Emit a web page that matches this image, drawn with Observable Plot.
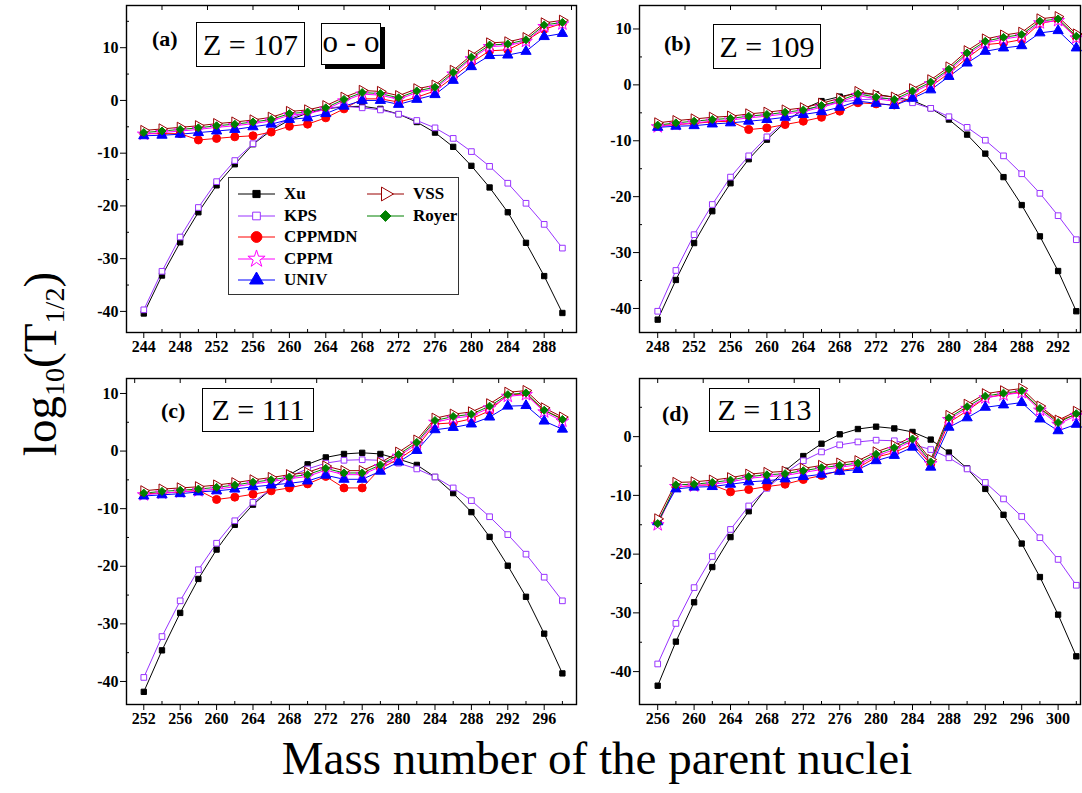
<!DOCTYPE html>
<html><head><meta charset="utf-8">
<script src="https://cdn.jsdelivr.net/npm/d3@7"></script>
<script src="https://cdn.jsdelivr.net/npm/@observablehq/plot@0.6"></script>
<style>
html,body{margin:0;padding:0;background:#fff;overflow:hidden;}
#root{position:relative;width:1082px;height:793px;font-family:"Liberation Serif","Times New Roman",serif;color:#000;}
.panel{position:absolute;}
.zbox{position:absolute;border:1.3px solid #000;background:#fff;box-sizing:border-box;font-size:30px;display:flex;align-items:center;justify-content:center;white-space:nowrap;}
.plab{position:absolute;font-weight:bold;font-size:22px;white-space:nowrap;}
.sub{font-size:0.6em;vertical-align:-0.3em;line-height:0;}
</style></head><body><div id="root"></div>
<script>
// ---------- data ----------
const seriesNames = ["Xu","KPS","CPPMDN","CPPM","UNIV","VSS","Royer"];

const massA = [244,246,248,250,252,254,256,258,260,262,264,266,268,270,272,274,276,278,280,282,284,286,288,290];
const xuA = [-40.4,-33.2,-26.9,-21.2,-16.1,-12.1,-8.3,-5.7,-3.7,-2.4,-1.6,-1.2,-1.1,-1.6,-2.6,-4.1,-6.1,-8.8,-12.4,-16.5,-21.2,-27.0,-33.3,-40.3];
const kpsA = [-39.7,-32.4,-25.9,-20.3,-15.4,-11.4,-8.2,-5.3,-3.4,-2.2,-1.5,-1.1,-1.4,-1.8,-2.6,-3.8,-5.2,-7.2,-9.7,-12.5,-15.7,-19.5,-23.5,-28.0];
const cppmdnA = [-6.3,-6.3,-6.3,-7.5,-7.2,-6.9,-6.7,-6.0,-4.9,-4.5,-3.3,-1.6,0.3,0.3,-0.3,0.6,1.8,4.4,7.2,9.4,9.6,11.3,13.5,14.6];
const cppmA = [-6.4,-6.1,-5.8,-5.5,-5.1,-4.8,-4.4,-3.9,-2.8,-2.5,-1.7,-0.1,1.2,1.0,0.2,1.5,2.2,5.0,7.9,10.2,10.4,11.2,14.0,14.5];
const univA = [-6.7,-6.6,-6.4,-6.1,-5.8,-5.5,-5.0,-4.5,-3.6,-3.3,-2.5,-1.1,0.0,0.0,-0.75,0.2,1.1,3.8,6.4,8.5,8.6,9.3,12.1,12.7];
const vssA = [-5.7,-5.4,-5.1,-4.8,-4.4,-4.1,-3.7,-3.2,-2.1,-1.8,-1.0,0.6,1.9,1.7,0.9,2.2,2.9,5.7,8.6,10.9,11.1,11.9,14.7,15.2];
const royerA = [-6.1,-5.8,-5.5,-5.2,-4.8,-4.5,-4.1,-3.6,-2.5,-2.2,-1.4,0.2,1.5,1.3,0.5,1.8,2.5,5.3,8.2,10.5,10.7,11.5,14.3,14.8];

const massB = [248,250,252,254,256,258,260,262,264,266,268,270,272,274,276,278,280,282,284,286,288,290,292,294];
const xuB = [-42.0,-34.9,-28.3,-22.6,-17.6,-13.3,-9.8,-6.7,-4.3,-2.9,-2.1,-1.5,-1.7,-2.2,-2.8,-4.2,-6.2,-8.9,-12.3,-16.5,-21.5,-27.1,-33.3,-40.5];
const kpsB = [-40.5,-33.2,-26.8,-21.4,-16.5,-12.7,-9.3,-6.5,-4.6,-3.7,-3.1,-2.7,-2.5,-2.4,-3.2,-4.2,-5.7,-7.6,-9.9,-12.7,-15.9,-19.4,-23.4,-27.7];
const cppmdnB = [-7.3,-7.1,-6.9,-6.6,-6.5,-8.0,-7.7,-7.1,-6.5,-5.8,-4.7,-3.2,-3.4,-3.6,-2.2,-0.3,2.1,4.8,7.2,7.5,8.1,11.0,11.6,8.5];
const cppmB = [-7.5,-7.1,-6.8,-6.5,-6.3,-5.9,-5.6,-5.2,-4.8,-4.0,-3.1,-1.9,-2.5,-2.9,-1.4,0.2,2.5,5.4,7.5,8.2,8.7,11.1,11.5,8.4];
const univB = [-7.6,-7.4,-7.3,-7.0,-6.8,-6.5,-6.2,-5.8,-5.3,-4.8,-4.0,-2.9,-3.3,-3.7,-2.4,-0.9,1.5,3.9,6.0,6.6,7.0,9.3,9.7,6.6];
const vssB = [-6.8,-6.4,-6.1,-5.8,-5.6,-5.2,-4.9,-4.5,-4.1,-3.3,-2.4,-1.2,-1.8,-2.2,-0.7,0.9,3.2,6.1,8.2,8.9,9.4,11.8,12.2,9.1];
const royerB = [-7.2,-6.8,-6.5,-6.2,-6.0,-5.6,-5.3,-4.9,-4.5,-3.7,-2.8,-1.6,-2.2,-2.6,-1.1,0.5,2.8,5.7,7.8,8.5,9.0,11.4,11.8,8.7];

const massC = [252,254,256,258,260,262,264,266,268,270,272,274,276,278,280,282,284,286,288,290,292,294,296,298];
const xuC = [-41.8,-34.6,-28.1,-22.2,-17.1,-12.8,-9.3,-6.6,-4.1,-2.3,-1.1,-0.5,-0.3,-0.5,-1.4,-2.4,-4.5,-7.3,-10.6,-14.9,-19.9,-25.3,-31.7,-38.6];
const kpsC = [-39.3,-32.2,-26.0,-20.6,-16.0,-12.1,-8.9,-6.6,-4.4,-3.1,-2.1,-1.6,-1.5,-1.6,-2.1,-3.1,-4.5,-6.4,-8.6,-11.4,-14.5,-17.9,-21.9,-26.0];
const cppmdnC = [-7.4,-7.3,-7.1,-6.8,-8.4,-8.0,-7.5,-6.9,-6.4,-5.7,-4.4,-6.4,-6.4,-3.0,-1.4,0.7,4.7,4.9,5.6,7.0,9.8,9.9,7.1,5.6];
const cppmC = [-7.6,-7.3,-7.1,-6.9,-6.6,-6.2,-5.7,-5.3,-4.8,-4.4,-3.3,-4.1,-4.1,-2.7,-0.9,1.2,5.0,5.7,6.1,7.5,9.5,9.8,6.8,5.2];
const univC = [-7.8,-7.6,-7.4,-7.1,-6.9,-6.6,-6.2,-5.9,-5.6,-5.2,-4.2,-4.9,-4.9,-3.5,-1.9,0.1,3.7,4.1,4.7,5.9,7.8,7.9,5.2,3.8];
const vssC = [-6.9,-6.6,-6.4,-6.2,-5.9,-5.5,-5.0,-4.6,-4.1,-3.7,-2.6,-3.4,-3.4,-2.0,-0.2,1.9,5.7,6.4,6.8,8.2,10.2,10.5,7.5,5.9];
const royerC = [-7.3,-7.0,-6.8,-6.6,-6.3,-5.9,-5.4,-5.0,-4.5,-4.1,-3.0,-3.8,-3.8,-2.4,-0.6,1.5,5.3,6.0,6.4,7.8,9.8,10.1,7.1,5.5];

const massD = [256,258,260,262,264,266,268,270,272,274,276,278,280,282,284,286,288,290,292,294,296,298,300,302];
const xuD = [-42.4,-34.9,-28.2,-22.2,-17.1,-12.7,-8.6,-5.8,-3.3,-1.2,0.4,1.3,1.7,1.4,0.8,-0.5,-2.7,-5.4,-8.9,-13.3,-18.2,-23.9,-30.3,-37.4];
const kpsD = [-38.7,-31.8,-25.7,-20.4,-15.8,-11.8,-8.8,-6.2,-4.1,-2.6,-1.4,-0.9,-0.6,-0.7,-1.3,-2.2,-3.6,-5.5,-7.8,-10.6,-13.6,-17.2,-20.9,-25.3];
const cppmdnD = [-14.5,-8.6,-8.3,-8.2,-9.4,-9.0,-8.5,-8.1,-7.3,-6.6,-5.8,-5.3,-3.5,-2.7,-1.3,-4.7,2.4,4.4,6.6,7.2,7.6,4.8,2.7,3.8];
const cppmD = [-15.0,-8.5,-8.4,-8.1,-7.7,-7.1,-6.8,-6.6,-6.1,-5.6,-5.2,-4.8,-3.3,-2.2,-0.7,-4.6,2.9,4.8,6.6,7.1,7.5,4.5,2.1,3.6];
const univD = [-14.5,-8.9,-8.6,-8.5,-8.1,-7.7,-7.5,-7.2,-6.8,-6.4,-5.9,-5.6,-4.1,-3.2,-1.8,-5.2,1.6,3.2,5.0,5.4,5.8,3.0,1.0,2.1];
const vssD = [-14.0,-7.8,-7.7,-7.4,-7.0,-6.4,-6.1,-5.9,-5.4,-4.9,-4.5,-4.1,-2.6,-1.5,0.0,-3.9,3.6,5.5,7.3,7.8,8.2,5.2,2.8,4.3];
const royerD = [-14.8,-8.2,-8.1,-7.8,-7.4,-6.8,-6.5,-6.3,-5.8,-5.3,-4.9,-4.5,-3.0,-1.9,-0.4,-4.3,3.2,5.1,6.9,7.4,7.8,4.8,2.4,3.9];

const xTicksA = [244,248,252,256,260,264,268,272,276,280,284,288];
const xTicksB = [248,252,256,260,264,268,272,276,280,284,288,292];
const xTicksC = [252,256,260,264,268,272,276,280,284,288,292,296];
const xTicksD = [256,260,264,268,272,276,280,284,288,292,296,300];
const topTicksA = [246,251,256,261,266,271,276,281,286,291];
const topTicksB = [251,256,261,266,271,276,281,286,291];
const topTicksC = [251,256,261,266,271,276,281,286,291,296];
const topTicksD = [256,261,266,271,276,281,286,291,296,301];
const yTicksABC = [10,0,-10,-20,-30,-40];
const yTicksD = [0,-10,-20,-30,-40];
const yMinor = [15,5,-5,-15,-25,-35];
const zLabels = ["Z = 107","Z = 109","Z = 111","Z = 113"];
const panelLetters = ["(a)","(b)","(c)","(d)"];

// ---------- styles ----------
const style = {
  Xu:{color:"#000000", symbol:"square", r:3.0, fill:"#000000", rotate:0},
  KPS:{color:"#9933ff", symbol:"square", r:3.2, fill:"#ffffff", rotate:0},
  CPPMDN:{color:"#ff0000", symbol:"circle", r:4.0, fill:"#ff0000", rotate:0},
  CPPM:{color:"#ff00ff", symbol:"star", r:4.0, fill:"#ffffff", rotate:0},
  UNIV:{color:"#0000ff", symbol:"triangle", r:3.8, fill:"#0000ff", rotate:0},
  VSS:{color:"#990000", symbol:"triangle", r:3.8, fill:"#ffffff", rotate:90},
  Royer:{color:"#008000", symbol:"diamond2", r:3.6, fill:"#008000", rotate:0}
};

const panels = [
  {mass:massA, vals:[xuA,kpsA,cppmdnA,cppmA,univA,vssA,royerA], xd:[242.1,291.55], yd:[-44,18], xt:xTicksA, tt:topTicksA, yt:yTicksABC, left:126, top:5, w:450, h:327},
  {mass:massB, vals:[xuB,kpsB,cppmdnB,cppmB,univB,vssB,royerB], xd:[246.0,294.46], yd:[-44.3,14.2], xt:xTicksB, tt:topTicksB, yt:yTicksABC, left:639, top:5, w:441, h:327},
  {mass:massC, vals:[xuC,kpsC,cppmdnC,cppmC,univC,vssC,royerC], xd:[250.1,299.55], yd:[-44,12.6], xt:xTicksC, tt:topTicksC, yt:yTicksABC, left:126, top:378, w:450, h:326},
  {mass:massD, vals:[xuD,kpsD,cppmdnD,cppmD,univD,vssD,royerD], xd:[254.0,302.46], yd:[-45.6,9.9], xt:xTicksD, tt:topTicksD, yt:yTicksD, left:639, top:378, w:441, h:326}
];

const root = document.getElementById("root");
const ml = 45, mr = 2, mt = 3, mb = 32;

panels.forEach((p, pi) => {
  const rows = [];
  seriesNames.forEach((s, si) => p.vals[si].forEach((v, i) => rows.push({mass:p.mass[i], value:v, series:s})));
  const xMinor = p.xt.map(t => t + 2).filter(t => t > p.xd[0] && t < p.xd[1]);
  const yMin = yMinor.filter(t => t > p.yd[0] && t < p.yd[1]);
  const tTop = p.tt.filter(t => t > p.xd[0] && t < p.xd[1]);
  const marks = [
    Plot.axisX(p.xt, {tickSize:6, tickPadding:2, tickFormat:d => String(d)}),
    Plot.axisX(xMinor, {tickSize:3, dy:-3, tickFormat:() => ""}),
    Plot.axisX(tTop, {anchor:"top", tickSize:4, dy:4, tickFormat:() => ""}),
    Plot.axisY(p.yt, {tickSize:6, tickPadding:2, tickFormat:d => String(d)}),
    Plot.axisY(yMin, {tickSize:3, dx:3, tickFormat:() => ""})
  ];
  seriesNames.forEach(s => {
    const st = style[s];
    const d = rows.filter(r => r.series === s);
    marks.push(Plot.line(d, {x:"mass", y:"value", stroke:st.color, strokeWidth:1}));
  });
  seriesNames.forEach(s => {
    const st = style[s];
    const d = rows.filter(r => r.series === s);
    marks.push(Plot.dot(d, {x:"mass", y:"value", symbol:st.symbol, r:st.r, fill:st.fill, stroke:st.color, strokeWidth:1, rotate:st.rotate}));
  });
  marks.push(Plot.frame({stroke:"#000", strokeWidth:1.4}));
  const chart = Plot.plot({
    width: p.w + ml + mr, height: p.h + mt + mb,
    marginLeft: ml, marginRight: mr, marginTop: mt, marginBottom: mb,
    x: {domain: p.xd, label: null},
    y: {domain: p.yd, label: null},
    style: {fontFamily:"'Liberation Serif','Times New Roman',serif", fontSize:"16px", fontWeight:"bold", background:"transparent", maxWidth:"none", overflow:"visible"},
    marks
  });
  const wrap = document.createElement("div");
  wrap.className = "panel";
  wrap.style.left = (p.left - ml) + "px";
  wrap.style.top = (p.top - mt) + "px";
  wrap.appendChild(chart);
  root.appendChild(wrap);
});

// ---------- annotations ----------
function addDiv(cls, css, html) {
  const d = document.createElement("div");
  d.className = cls;
  d.style.cssText = css;
  d.innerHTML = html;
  root.appendChild(d);
  return d;
}
const boxPos = [[196,22,109,45],[713,24,108,45],[202,388,112,44],[709,388,111,44]];
const letPos = [[152,26],[664,31],[161,398],[662,401]];
boxPos.forEach((b, i) => addDiv("zbox", `left:${b[0]}px;top:${b[1]}px;width:${b[2]}px;height:${b[3]}px;`, zLabels[i]));
letPos.forEach((b, i) => addDiv("plab", `left:${b[0]}px;top:${b[1]}px;`, panelLetters[i]));
addDiv("zbox", "left:321px;top:23px;width:60px;height:42px;box-shadow:4px 4px 0 #000;font-size:31px;padding-bottom:4px;", "o - o");

// legend
const leg = addDiv("", "position:absolute;left:228px;top:177px;width:231px;height:118px;border:1px solid #333;background:#fff;box-sizing:border-box;", "");
const legPos = {Xu:[0,0], KPS:[0,1], CPPMDN:[0,2], CPPM:[0,3], UNIV:[0,4], VSS:[1,0], Royer:[1,1]};
seriesNames.forEach(s => {
  const st = style[s];
  const [c, r] = legPos[s];
  const cx = c === 0 ? 9 : 138, cy = 16 + r * 21.6;
  const svg = d3.create("svg").attr("width", 40).attr("height", 16)
    .style("position","absolute").style("left", cx + "px").style("top", (cy - 8) + "px").style("overflow","visible");
  svg.append("line").attr("x1",0).attr("x2",37).attr("y1",8).attr("y2",8).attr("stroke",st.color).attr("stroke-width",1);
  const sym = {square:d3.symbolSquare, circle:d3.symbolCircle, star:d3.symbolStar, triangle:d3.symbolTriangle, diamond2:d3.symbolDiamond2}[st.symbol];
  const rr = st.r * 1.35;
  svg.append("path").attr("d", d3.symbol(sym, rr * rr * Math.PI)())
    .attr("transform", `translate(18.5,8) rotate(${st.rotate})`)
    .attr("fill", st.fill).attr("stroke", st.color).attr("stroke-width", 1);
  leg.appendChild(svg.node());
  const t = document.createElement("div");
  t.textContent = s;
  t.style.cssText = `position:absolute;left:${cx + 46}px;top:${cy - 11}px;font-weight:bold;font-size:17px;line-height:22px;white-space:nowrap;`;
  leg.appendChild(t);
});

// axis titles
addDiv("", "position:absolute;left:597px;top:735px;transform:translateX(-50%);font-size:47px;line-height:47px;white-space:nowrap;", "Mass number of the parent nuclei");
addDiv("", "position:absolute;left:40px;top:364px;transform:translate(-50%,-50%) rotate(-90deg);font-size:47px;line-height:47px;white-space:nowrap;", 'log<span class="sub">10</span>(T<span class="sub">1/2</span>)');
</script></body></html>
